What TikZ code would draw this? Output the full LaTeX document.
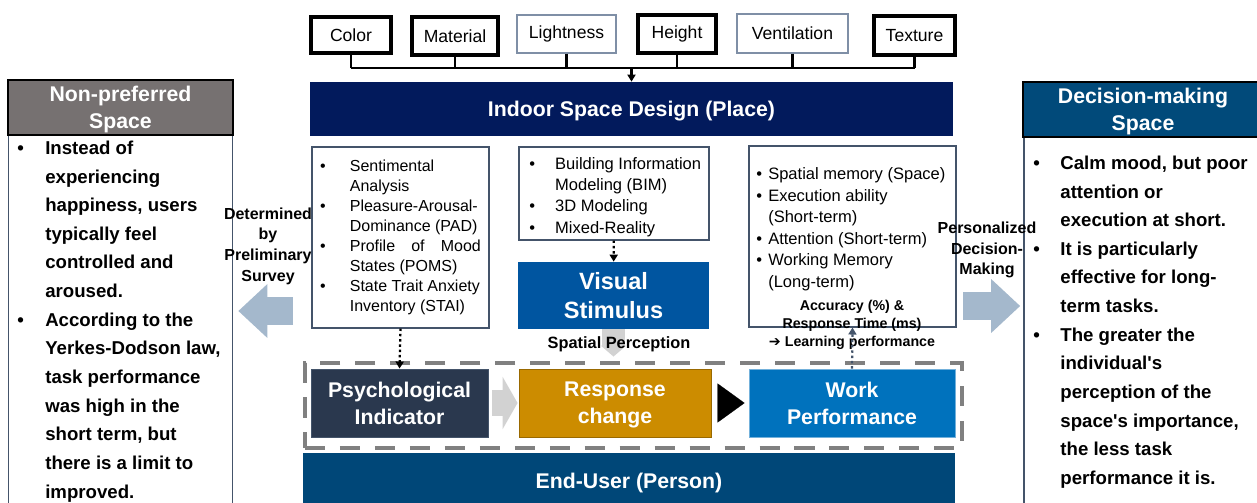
\documentclass[tikz,border=0pt]{standalone}
\usepackage{fontspec}
\setmainfont{Liberation Sans}[Ligatures=TeXOff]
\newfontfamily\symfont{DejaVu Sans}
\usetikzlibrary{arrows.meta}

\definecolor{indoorBlue}{RGB}{2,26,92}
\definecolor{userBlue}{RGB}{0,71,120}
\definecolor{decisionBlue}{RGB}{1,74,122}
\definecolor{stimBlue}{RGB}{0,85,160}
\definecolor{workBlue}{RGB}{0,114,189}
\definecolor{psychNavy}{RGB}{42,56,78}
\definecolor{responseGold}{RGB}{204,140,0}
\definecolor{warmGray}{RGB}{118,113,113}
\definecolor{steelBlue}{RGB}{164,184,204}
\definecolor{paleGray}{RGB}{210,210,210}
\definecolor{slateLine}{RGB}{68,84,106}
\definecolor{tagEdge}{RGB}{127,143,166}
\definecolor{dashGray}{RGB}{128,128,128}

\begin{document}
\begin{tikzpicture}[x=0.02cm, y=-0.02cm, >={Triangle[length=0.14cm,width=0.16cm]},
  tagthick/.style={draw, line width=2.5pt, fill=white, inner sep=0pt, font=\fontsize{10}{12}\selectfont},
  tagthin/.style={draw=tagEdge, line width=0.7pt, fill=white, inner sep=0pt, font=\fontsize{10}{12}\selectfont},
  bus/.style={line width=1.3pt},
  bar/.style={fill=#1, text=white, inner sep=0pt, align=center, text depth=0pt, font=\bfseries\fontsize{12.1}{15.4}\selectfont},
  listbox/.style={draw=slateLine, line width=0.6pt, inner sep=0pt},
  dotlink/.style={->, line width=1.3pt, dash pattern=on 1.4pt off 1.6pt},
  bigarrow/.style={steelBlue, line width=0.58cm, -{Triangle[length=0.58cm,width=1.04cm]}},
  note/.style={inner sep=0pt, align=center, font=\bfseries\fontsize{9.1}{11.8}\selectfont}]
\def\px{0.02cm}
\useasboundingbox (0,0) rectangle (1257,503);

% design features on top
\foreach \n/\t/\x/\y/\w/\h in {color/Color/351/35/80/36, material/Material/455/36/86/38,
    height/Height/677/34/78/38, texture/Texture/914.5/35.5/81/39}
  \node[tagthick, minimum width=\w*\px, minimum height=\h*\px] (\n) at (\x,\y) {\t};
\foreach \n/\t/\x/\y/\w/\h in {lightness/Lightness/566.5/34/99/38, ventilation/Ventilation/792.5/33.5/111/39}
  \node[tagthin, minimum width=\w*\px, minimum height=\h*\px] (\n) at (\x,\y) {\t};

\node[bar=indoorBlue, minimum width=643*\px, minimum height=54*\px] (indoor) at (631.5,109) {Indoor Space Design (Place)};

\coordinate (busline) at (352,68);
\foreach \n in {color,material,lightness,height,ventilation,texture}
  \draw[bus] (\n.south) -- (\n.south |- busline);
\draw[bus] (color.south |- busline) -- (texture.south |- busline);
\draw[bus,->] (indoor.north |- busline) -- (indoor.north);

% side panels
\node[listbox, line width=0.9pt, minimum width=224*\px, minimum height=380*\px] (nonprefBody) at (120.5,325) {};
\node[bar=warmGray, draw=black, line width=1.4pt, minimum width=225*\px, minimum height=55*\px] (nonprefHead) at (120.5,107.5) {Non-preferred\\Space};
\node[listbox, line width=0.9pt, minimum width=240*\px, minimum height=378*\px] (decisionBody) at (1144,326) {};
\node[bar=decisionBlue, draw=black, line width=1.4pt, minimum width=240*\px, minimum height=55*\px] (decisionHead) at (1143,109.5) {Decision-making\\Space};

\node[anchor=north west, inner sep=0pt, font=\bfseries\fontsize{10.6}{16.3}\selectfont] (nonprefText) at (17,134) {%
  \begin{tabular}{@{}l@{\hspace{12.2pt}}l@{}}
  \textbullet & Instead of\\
   & experiencing\\
   & happiness, users\\
   & typically feel\\
   & controlled and\\
   & aroused.\\
  \textbullet & According to the\\
   & Yerkes-Dodson law,\\
   & task performance\\
   & was high in the\\
   & short term, but\\
   & there is a limit to\\
   & improved.
  \end{tabular}};
\node[anchor=north west, inner sep=0pt, font=\bfseries\fontsize{10.6}{16.3}\selectfont] (decisionText) at (1033,149) {%
  \begin{tabular}{@{}l@{\hspace{11.7pt}}l@{}}
  \textbullet & Calm mood, but poor\\
   & attention or\\
   & execution at short.\\
  \textbullet & It is particularly\\
   & effective for long-\\
   & term tasks.\\
  \textbullet & The greater the\\
   & individual's\\
   & perception of the\\
   & space's importance,\\
   & the less task\\
   & performance it is.
  \end{tabular}};

% measurement boxes
\node[listbox, minimum width=177*\px, minimum height=181*\px, font=\fontsize{9.1}{11.45}\selectfont] (measures) at (400.5,237.5) {%
  \begin{tabular}{@{}l@{\hspace{13.7pt}}l@{}}
  \textbullet & Sentimental\\
   & Analysis\\
  \textbullet & Pleasure-Arousal-\\
   & Dominance (PAD)\\
  \textbullet & \makebox[2.62cm][s]{Profile of Mood}\\
   & States (POMS)\\
  \textbullet & State Trait Anxiety\\
   & Inventory (STAI)
  \end{tabular}};
\node[listbox, minimum width=190*\px, minimum height=93*\px] (bim) at (614,193.5) {};
\node[anchor=north west, inner sep=0pt, font=\fontsize{9.4}{12.1}\selectfont] (bimList) at (529,154) {%
  \begin{tabular}{@{}l@{\hspace{11.4pt}}l@{}}
  \textbullet & Building Information\\
   & Modeling (BIM)\\
  \textbullet & 3D Modeling\\
  \textbullet & Mixed-Reality
  \end{tabular}};
\node[listbox, minimum width=207*\px, minimum height=181*\px] (memory) at (852.5,236.5) {};
\node[anchor=north west, inner sep=0pt, font=\fontsize{9.4}{12.3}\selectfont] (memoryList) at (756,164) {%
  \begin{tabular}{@{}l@{\hspace{3.5pt}}l@{}}
  \textbullet & Spatial memory (Space)\\
  \textbullet & Execution ability\\
   & (Short-term)\\
  \textbullet & Attention (Short-term)\\
  \textbullet & Working Memory\\
   & (Long-term)
  \end{tabular}};
\node[inner sep=0pt, align=center, font=\bfseries\fontsize{8.1}{10.2}\selectfont] (accuracy) at (852,325)
  {Accuracy (\%) \&\\Response Time (ms)\\{\symfont\mdseries ➔} Learning performance};

\node[bar=stimBlue, minimum width=191*\px, minimum height=67*\px, font=\bfseries\fontsize{13.4}{16.5}\selectfont] (visual) at (613.5,295.5) {Visual\\Stimulus};

% dashed frame round the three stages
\node[draw=dashGray, line width=2.6pt, dash pattern=on 11.4pt off 8.5pt, minimum width=657*\px, minimum height=85*\px, inner sep=0pt] (stages) at (633.5,405.5) {};
\node[bar=psychNavy, draw=slateLine, line width=0.5pt, minimum width=177*\px, minimum height=68*\px] (psych) at (399.5,403) {Psychological\\Indicator};
\node[bar=responseGold, draw=responseGold!75!black, line width=0.5pt, minimum width=192*\px, minimum height=68*\px] (response) at (615,403) {Response\\change};
\node[bar=workBlue, draw=workBlue!55!white, line width=0.5pt, minimum width=206*\px, minimum height=68*\px] (work) at (852,403) {Work\\Performance};

\node[bar=userBlue, minimum width=652*\px, minimum height=56*\px] (user) at (629,481) {End-User (Person)};

% links
\draw[dotlink] (bim) -- (visual);
\draw[dotlink] (measures.south) -- (psych.north);
\draw[dotlink, slateLine] (work.north) -- (memory.south);
\draw[paleGray, line width=0.46cm, -{Triangle[length=0.22cm,width=0.5cm]}, shorten >=0.24cm] (visual.south) -- (visual.south |- response.north);
\node[inner sep=0pt, font=\bfseries\fontsize{9.3}{11}\selectfont] (perception) at (619,344) {Spatial Perception};
\draw[paleGray, line width=0.52cm, -{Triangle[length=0.3cm,width=1.04cm]}, shorten <=0.08cm, shorten >=0.02cm] (psych) -- (response);
\draw[line width=0.1pt, -{Triangle[length=0.54cm,width=0.78cm]}, shorten <=0.14cm, shorten >=0.08cm] (response) -- (work);

% block arrows to the side panels
\coordinate (leftTail) at (293,311);
\coordinate (rightTail) at (963,306);
\draw[bigarrow, shorten >=0.1cm] (leftTail) -- (nonprefBody.east |- leftTail);
\draw[bigarrow, shorten >=0.06cm] (rightTail) -- (decisionBody.west |- rightTail);
\node[note] (surveyNote) at (268,246) {Determined\\by\\Preliminary\\Survey};
\node[note] (decisionNote) at (987,250) {Personalized\\Decision-\\Making};
\end{tikzpicture}
\end{document}
